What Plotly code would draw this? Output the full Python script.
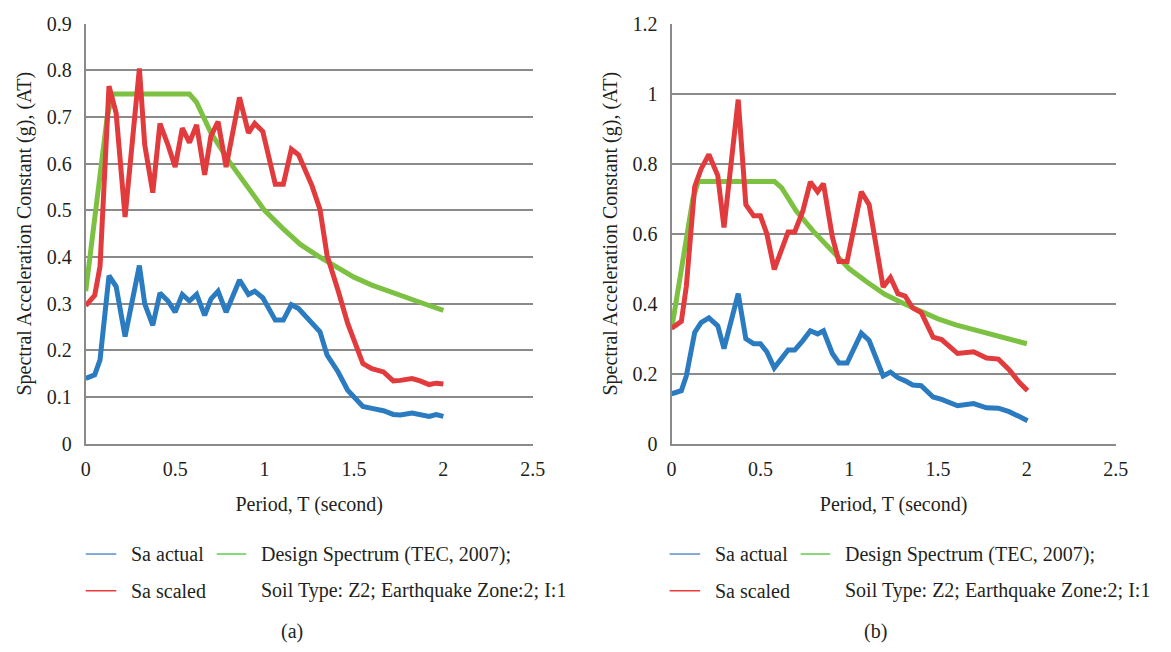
import plotly.graph_objects as go

# ---------------- data ----------------
T_a = [0.00, 0.05, 0.08, 0.13, 0.17, 0.22, 0.30, 0.33, 0.375, 0.415, 0.46, 0.50,
       0.54, 0.58, 0.62, 0.665, 0.70, 0.74, 0.785, 0.86, 0.91, 0.945, 0.99, 1.06,
       1.105, 1.15, 1.19, 1.265, 1.31, 1.35, 1.41, 1.465, 1.55, 1.60, 1.665, 1.72,
       1.76, 1.825, 1.87, 1.92, 1.96, 2.00]
sa_actual_a = [0.140, 0.148, 0.180, 0.360, 0.337, 0.230, 0.382, 0.300, 0.254, 0.323,
               0.306, 0.282, 0.320, 0.306, 0.320, 0.275, 0.310, 0.327, 0.282, 0.351,
               0.320, 0.327, 0.313, 0.265, 0.265, 0.298, 0.290, 0.260, 0.240, 0.190,
               0.155, 0.115, 0.080, 0.076, 0.071, 0.063, 0.062, 0.066, 0.063, 0.059,
               0.063, 0.059]
sa_scaled_a = [0.296, 0.318, 0.380, 0.766, 0.708, 0.486, 0.804, 0.640, 0.538, 0.686,
               0.640, 0.593, 0.676, 0.645, 0.683, 0.576, 0.659, 0.690, 0.593, 0.742,
               0.666, 0.686, 0.669, 0.556, 0.556, 0.631, 0.619, 0.553, 0.502, 0.403,
               0.330, 0.258, 0.172, 0.161, 0.154, 0.135, 0.136, 0.140, 0.135, 0.127,
               0.130, 0.128]

T_b = [0.00, 0.055, 0.083, 0.13, 0.166, 0.21, 0.26, 0.295, 0.375, 0.418, 0.462, 0.50,
       0.536, 0.578, 0.656, 0.693, 0.739, 0.781, 0.822, 0.855, 0.905, 0.942, 0.988,
       1.068, 1.112, 1.191, 1.232, 1.274, 1.315, 1.357, 1.405, 1.472, 1.52, 1.61,
       1.70, 1.773, 1.84, 1.90, 1.958, 2.004]
sa_actual_b = [0.143, 0.152, 0.194, 0.318, 0.346, 0.360, 0.337, 0.272, 0.429, 0.300,
               0.286, 0.286, 0.263, 0.217, 0.268, 0.268, 0.295, 0.323, 0.314, 0.323,
               0.258, 0.231, 0.231, 0.316, 0.295, 0.194, 0.205, 0.189, 0.180, 0.168,
               0.166, 0.134, 0.127, 0.109, 0.115, 0.103, 0.102, 0.092, 0.078, 0.066]
sa_scaled_b = [0.330, 0.350, 0.450, 0.734, 0.785, 0.826, 0.766, 0.618, 0.983, 0.683,
               0.651, 0.651, 0.600, 0.498, 0.605, 0.605, 0.665, 0.748, 0.720, 0.743,
               0.591, 0.521, 0.521, 0.720, 0.683, 0.448, 0.475, 0.429, 0.422, 0.388,
               0.375, 0.305, 0.298, 0.258, 0.263, 0.245, 0.242, 0.212, 0.175, 0.152]

T_design = [0.00, 0.12, 0.15, 0.58, 0.62, 0.70, 0.80, 0.90, 1.00, 1.10, 1.20, 1.30,
            1.40, 1.50, 1.60, 1.70, 1.80, 1.90, 2.00]
design = [0.327, 0.700, 0.749, 0.749, 0.731, 0.666, 0.606, 0.555, 0.500, 0.462, 0.427,
          0.402, 0.378, 0.357, 0.340, 0.326, 0.311, 0.299, 0.286]

x_ticks = [0, 0.5, 1, 1.5, 2, 2.5]
y_ticks_a = [0, 0.1, 0.2, 0.3, 0.4, 0.5, 0.6, 0.7, 0.8, 0.9]
y_ticks_b = [0, 0.2, 0.4, 0.6, 0.8, 1, 1.2]

series_names = ["Sa actual", "Sa scaled", "Design Spectrum (TEC, 2007);"]
label_soil = "Soil Type: Z2; Earthquake Zone:2; I:1"
x_title = "Period, T (second)"
y_title = "Spectral Acceleration Constant (g), (AT)"

# ---------------- styling ----------------
BLUE, RED, GREEN = "#2b7bc0", "#e23b3d", "#7dc143"
LEG_BLUE, LEG_RED, LEG_GREEN = "#5b8fcf", "#f03a3a", "#5fcd4a"
GRID = "#8a8a8a"
TXT = "#231f20"
FONT = "Liberation Serif"
W, H = 1171, 652

fig = go.Figure()

def add_panel(T, actual, scaled, xa, ya):
    fig.add_trace(go.Scatter(x=T_design, y=design, mode="lines", name=series_names[2],
                             line=dict(color=GREEN, width=5), xaxis=xa, yaxis=ya,
                             showlegend=False))
    fig.add_trace(go.Scatter(x=T, y=scaled, mode="lines", name=series_names[1],
                             line=dict(color=RED, width=5), xaxis=xa, yaxis=ya,
                             showlegend=False))
    fig.add_trace(go.Scatter(x=T, y=actual, mode="lines", name=series_names[0],
                             line=dict(color=BLUE, width=5), xaxis=xa, yaxis=ya,
                             showlegend=False))

add_panel(T_a, sa_actual_a, sa_scaled_a, "x", "y")
add_panel(T_b, sa_actual_b, sa_scaled_b, "x2", "y2")

tickfont = dict(family=FONT, size=20, color=TXT)
titlefont = dict(family=FONT, size=20, color=TXT)

def xaxis_cfg(dom, anchor):
    return dict(domain=dom, anchor=anchor, range=[0, 2.5], tickvals=x_ticks,
                showgrid=False, zeroline=False, showline=True, linecolor=GRID,
                linewidth=2, ticks="", tickfont=tickfont, ticklabelstandoff=6,
                title=dict(text=x_title, font=titlefont, standoff=18))

def yaxis_cfg(dom, anchor, rng, tv):
    return dict(domain=dom, anchor=anchor, range=rng, tickvals=tv,
                showgrid=True, gridcolor=GRID, gridwidth=2, zeroline=False,
                showline=True, linecolor=GRID, linewidth=2, ticks="",
                tickfont=tickfont, ticklabelstandoff=8,
                title=dict(text=y_title, font=titlefont, standoff=10))

ydom = [1 - 448 / H, 1 - 13 / H]
fig.update_layout(
    width=W, height=H, margin=dict(l=0, r=0, t=0, b=0),
    paper_bgcolor="white", plot_bgcolor="white", showlegend=False,
    xaxis=xaxis_cfg([82 / W, 536 / W], "y"),
    yaxis=yaxis_cfg(ydom, "x", [0, 0.9], y_ticks_a),
    xaxis2=xaxis_cfg([677 / W, 1128 / W], "y2"),
    yaxis2=yaxis_cfg(ydom, "x2", [0, 1.2], y_ticks_b),
)

# ---------------- custom legends ----------------
shapes, annots = [], []
def legend(x0, panel_label, label_x):
    rows = [(562, LEG_BLUE, series_names[0]), (600, LEG_RED, series_names[1])]
    for yy, col, txt in rows:
        shapes.append(dict(type="line", xref="paper", yref="paper",
                           x0=x0 / W, x1=(x0 + 31) / W, y0=1 - yy / H, y1=1 - yy / H,
                           line=dict(color=col, width=1.5)))
        annots.append(dict(xref="paper", yref="paper", x=(x0 + 44) / W, y=1 - yy / H,
                           xanchor="left", yanchor="middle", text=txt, showarrow=False,
                           font=titlefont))
    shapes.append(dict(type="line", xref="paper", yref="paper",
                       x0=(x0 + 133) / W, x1=(x0 + 163) / W, y0=1 - 562 / H, y1=1 - 562 / H,
                       line=dict(color=LEG_GREEN, width=1.5)))
    annots.append(dict(xref="paper", yref="paper", x=(x0 + 176) / W, y=1 - 562 / H,
                       xanchor="left", yanchor="middle", text=series_names[2],
                       showarrow=False, font=titlefont))
    annots.append(dict(xref="paper", yref="paper", x=(x0 + 176) / W, y=1 - 600 / H,
                       xanchor="left", yanchor="middle", text=label_soil,
                       showarrow=False, font=titlefont))
    annots.append(dict(xref="paper", yref="paper", x=label_x / W, y=1 - 642 / H,
                       xanchor="center", yanchor="middle", text=panel_label,
                       showarrow=False, font=titlefont))

legend(82, "(a)", 291)
legend(675, "(b)", 884)
fig.update_layout(shapes=shapes, annotations=annots)

fig.write_html("out.html")
